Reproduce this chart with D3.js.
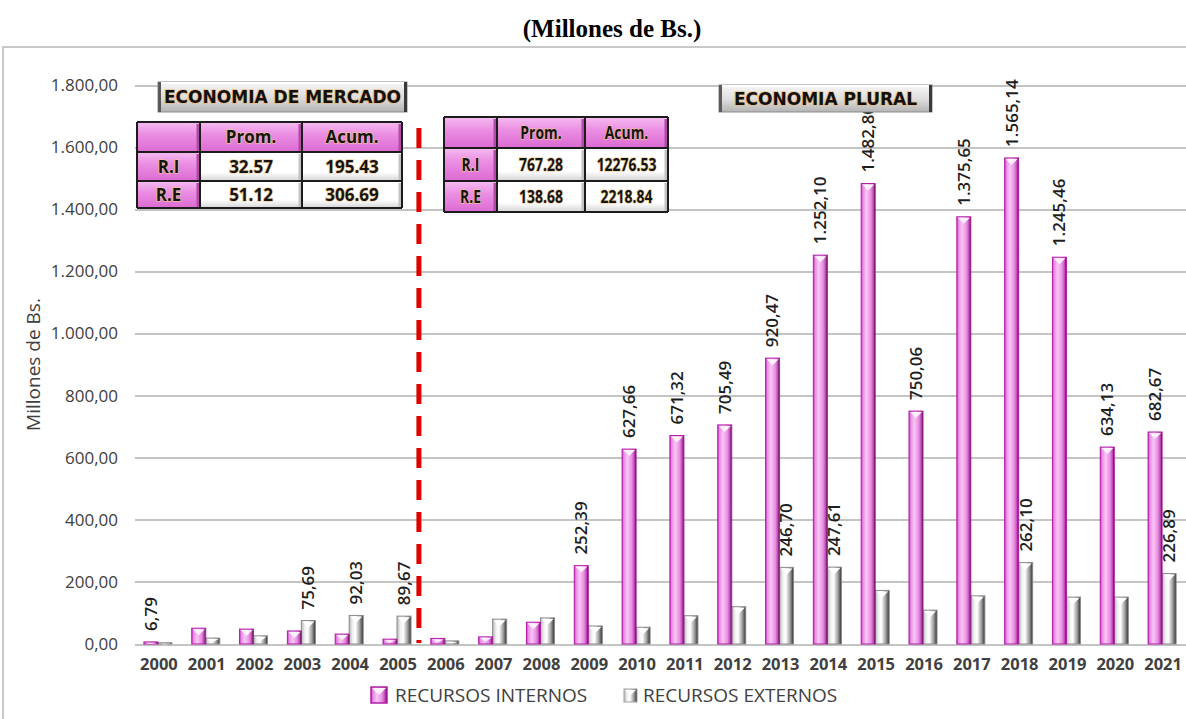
<!DOCTYPE html>
<html lang="es">
<head>
<meta charset="utf-8">
<title>Recursos internos y externos (Millones de Bs.)</title>
<style>
  body { margin: 0; background-color: white; }
  .axis path { stroke: none; }
  .axis line { stroke: none; }
  .axis text { font-family: "Open Sans", sans-serif; fill: #404040; }
  .grid path { stroke: none; }
  .grid line { stroke: #c4c4c4; stroke-width: 2px; shape-rendering: crispEdges; }
  .value-label { font-family: "Open Sans", sans-serif; font-size: 17px; font-weight: 600; fill: #1e1e1e; }
  .cell-text { font-family: "Open Sans", sans-serif; font-weight: 700; fill: #151515;
               stroke: #f6c98a; stroke-width: 1.6px; paint-order: stroke; stroke-opacity: 0.8; }
  .box-text { font-family: "DejaVu Sans", sans-serif; font-weight: 700; font-size: 17px; fill: #111;
              stroke: #f3b56a; stroke-width: 1.6px; paint-order: stroke; stroke-opacity: 0.8; }
</style>
</head>
<body>
<script src="https://cdn.jsdelivr.net/npm/d3@7/dist/d3.min.js"></script>
<svg width="1186" height="719"></svg>
<script>
// data
var years = ["2000", "2001", "2002", "2003", "2004", "2005", "2006", "2007", "2008", "2009", "2010",
    "2011", "2012", "2013", "2014", "2015", "2016", "2017", "2018", "2019", "2020", "2021"];
var recursosInternos = [6.79, 51.0, 48.0, 42.0, 32.0, 15.64, 18.0, 23.0, 70.19, 252.39, 627.66,
    671.32, 705.49, 920.47, 1252.10, 1482.80, 750.06, 1375.65, 1565.14, 1245.46, 634.13, 682.67];
var recursosExternos = [4.0, 19.0, 26.3, 75.69, 92.03, 89.67, 10.0, 80.0, 84.0, 58.0, 54.0,
    91.0, 120.0, 246.70, 247.61, 172.54, 109.0, 155.0, 262.10, 151.0, 151.0, 226.89];
// years whose bars carry a value label
var internosLabelYears = ["2000", "2009", "2010", "2011", "2012", "2013", "2014", "2015", "2016",
    "2017", "2018", "2019", "2020", "2021"];
var externosLabelYears = ["2003", "2004", "2005", "2013", "2014", "2018", "2021"];
var yTicks = [0, 200, 400, 600, 800, 1000, 1200, 1400, 1600, 1800];
var seriesNames = ["RECURSOS INTERNOS", "RECURSOS EXTERNOS"];
var periodNames = ["ECONOMIA DE MERCADO", "ECONOMIA PLURAL"];
var tableHeader = ["", "Prom.", "Acum."];
var mercadoRows = [["R.I", "32.57", "195.43"], ["R.E", "51.12", "306.69"]];
var pluralRows = [["R.I", "767.28", "12276.53"], ["R.E", "138.68", "2218.84"]];

var es = d3.formatLocale({ decimal: ",", thousands: ".", grouping: [3], currency: ["", ""] });
var fmt = es.format(",.2f");

var svg = d3.select("svg");
var plot = { left: 135, right: 1187, top: 85, bottom: 644 };

var data = years.map(function(y, i) {
    return { year: y, ri: recursosInternos[i], re: recursosExternos[i] };
});

var x = d3.scaleBand().domain(years).range([plot.left, plot.right]).padding(0);
var y = d3.scaleLinear().domain([0, 1800]).range([plot.bottom, plot.top]);
var xSub = d3.scaleBand().domain(["ri", "re"]).range([0, 28]);

// gradients
var defs = svg.append("defs");
function grad(id, stops, vertical) {
    var g = defs.append("linearGradient").attr("id", id)
        .attr("x1", 0).attr("y1", 0).attr("x2", vertical ? 0 : 1).attr("y2", vertical ? 1 : 0);
    stops.forEach(function(s) {
        g.append("stop").attr("offset", s[0]).attr("stop-color", s[1]);
    });
}
grad("pinkBar", [["0%", "#c02cb6"], ["12%", "#e98ae4"], ["38%", "#f9c6f6"], ["70%", "#e68ee0"], ["88%", "#c043b6"], ["100%", "#2e062a"]]);
grad("grayBar", [["0%", "#b8b8b8"], ["25%", "#f2f2f2"], ["45%", "#ffffff"], ["75%", "#a0a0a0"], ["90%", "#606060"], ["100%", "#1e1e1e"]]);
grad("pinkCell", [["0%", "#f5bcf0"], ["40%", "#eb8fe3"], ["100%", "#dc6ad2"]], true);
grad("whiteCell", [["0%", "#ffffff"], ["70%", "#ffffff"], ["100%", "#d4d4d4"]], true);
grad("boxFill", [["0%", "#f6f6f6"], ["55%", "#dcdcdc"], ["100%", "#b4b4b4"]], true);

// title
svg.append("text")
    .attr("x", 612).attr("y", 37)
    .attr("text-anchor", "middle")
    .attr("font-family", "Liberation Serif, serif")
    .attr("font-weight", "bold")
    .attr("font-size", "25px")
    .text("(Millones de Bs.)");

// chart frame
svg.append("rect")
    .attr("x", 3).attr("y", 47).attr("width", 1200).attr("height", 690)
    .attr("fill", "white").attr("stroke", "#c8c8c8").attr("stroke-width", 2);

// gridlines
svg.append("g")
    .attr("class", "grid")
    .attr("transform", "translate(" + plot.left + ",0)")
    .call(d3.axisLeft(y).tickValues(yTicks).tickSize(-(plot.right - plot.left)).tickFormat(""));

// y axis labels
svg.append("g")
    .attr("class", "axis")
    .attr("transform", "translate(" + plot.left + ",0)")
    .call(d3.axisLeft(y).tickValues(yTicks).tickSize(0).tickPadding(17).tickFormat(fmt))
    .selectAll("text").attr("font-size", "17px");

// y axis title
svg.append("text")
    .attr("transform", "translate(33," + (plot.top + plot.bottom) / 2 + ") rotate(-90)")
    .attr("text-anchor", "middle")
    .attr("dy", "0.35em")
    .attr("font-family", "Open Sans, sans-serif")
    .attr("font-size", "19px")
    .attr("fill", "#404040")
    .text("Millones de Bs.");

// x axis labels
svg.append("g")
    .attr("class", "axis")
    .attr("transform", "translate(0," + plot.bottom + ")")
    .call(d3.axisBottom(x).tickSize(0).tickPadding(14))
    .selectAll("text")
    .attr("font-size", "16.5px")
    .attr("font-weight", "700");

// bars
var groups = svg.append("g").selectAll("g")
    .data(data)
    .enter().append("g")
    .attr("transform", function(d) {
        return "translate(" + (x(d.year) + x.bandwidth() / 2 - 15) + ",0)";
    });

function drawBar(sel, key, fill, edge, cap) {
    sel.append("rect")
        .attr("x", xSub(key))
        .attr("y", function(d) { return y(d[key]); })
        .attr("width", xSub.bandwidth())
        .attr("height", function(d) { return y(0) - y(d[key]); })
        .attr("fill", "url(#" + fill + ")")
        .attr("stroke", edge)
        .attr("stroke-width", 1);
    // bevel on the top of each bar
    sel.append("path")
        .attr("d", function(d) {
            var t = y(d[key]), x0 = xSub(key), w = xSub.bandwidth();
            var h = Math.min(6, (y(0) - t) / 2);
            return "M" + (x0 + 1) + "," + (t + 1) + "L" + (x0 + w - 1) + "," + (t + 1) +
                "L" + (x0 + w / 2) + "," + (t + 1 + h) + "Z";
        })
        .attr("fill", cap);
}
drawBar(groups, "re", "grayBar", "#8a8a8a", "#ffffff");
drawBar(groups, "ri", "pinkBar", "#b21fa6", "#fff0fd");

// value labels
function drawLabels(key, labelYears) {
    svg.append("g").selectAll("text")
        .data(data.filter(function(d) { return labelYears.indexOf(d.year) >= 0; }))
        .enter().append("text")
        .attr("class", "value-label")
        .attr("transform", function(d) {
            var cx = x(d.year) + x.bandwidth() / 2 - 15 + xSub(key) + xSub.bandwidth() / 2;
            return "translate(" + cx + "," + (y(d[key]) - 11) + ") rotate(-90)";
        })
        .attr("dy", "0.35em")
        .text(function(d) { return fmt(d[key]); });
}
drawLabels("ri", internosLabelYears);
drawLabels("re", externosLabelYears);

// dashed separator between the two periods
svg.append("line")
    .attr("x1", x("2006") - 3).attr("x2", x("2006") - 3)
    .attr("y1", 128).attr("y2", plot.bottom - 1)
    .attr("stroke", "#e00000")
    .attr("stroke-width", 5)
    .attr("stroke-dasharray", "20,12");

// summary tables
function drawTable(cols, rows, body, fontSize, squeeze) {
    var t = svg.append("g");
    var all = [tableHeader].concat(body);
    all.forEach(function(r, i) {
        r.forEach(function(txt, j) {
            var pink = (i === 0 || j === 0);
            t.append("rect")
                .attr("x", cols[j]).attr("y", rows[i])
                .attr("width", cols[j + 1] - cols[j]).attr("height", rows[i + 1] - rows[i])
                .attr("fill", pink ? "url(#pinkCell)" : "url(#whiteCell)");
            // bevel shadow on the right of each cell
            t.append("line")
                .attr("x1", cols[j + 1] - 2).attr("x2", cols[j + 1] - 2)
                .attr("y1", rows[i] + 2).attr("y2", rows[i + 1] - 1)
                .attr("stroke", pink ? "#b24aa8" : "#c2c2c2").attr("stroke-width", 3);
            t.append("text")
                .attr("class", "cell-text")
                .attr("transform", "translate(" + (cols[j] + cols[j + 1]) / 2 + "," +
                    (rows[i] + rows[i + 1]) / 2 + ") scale(" + squeeze + ",1)")
                .attr("dy", "0.36em")
                .attr("text-anchor", "middle")
                .style("font-size", fontSize)
                .text(txt);
        });
    });
    cols.forEach(function(c) {
        t.append("line").attr("x1", c).attr("x2", c)
            .attr("y1", rows[0]).attr("y2", rows[rows.length - 1])
            .attr("stroke", "#1c1c1c").attr("stroke-width", 2);
    });
    rows.forEach(function(r) {
        t.append("line").attr("x1", cols[0]).attr("x2", cols[cols.length - 1])
            .attr("y1", r).attr("y2", r)
            .attr("stroke", "#1c1c1c").attr("stroke-width", 2);
    });
}
drawTable([137, 200, 302, 402], [122, 152, 181, 208], mercadoRows, "17px", 1);
drawTable([444, 497, 585, 668], [117, 148, 181, 212], pluralRows, "17px", 0.82);

// period name boxes
function drawBox(x0, y0, w, h, label) {
    var b = svg.append("g");
    b.append("rect").attr("x", x0).attr("y", y0).attr("width", w).attr("height", h)
        .attr("fill", "url(#boxFill)").attr("stroke", "#8c8c8c").attr("stroke-width", 1);
    b.append("line").attr("x1", x0 + 1.5).attr("x2", x0 + 1.5).attr("y1", y0).attr("y2", y0 + h)
        .attr("stroke", "#5a5a5a").attr("stroke-width", 3);
    b.append("line").attr("x1", x0 + w - 1.5).attr("x2", x0 + w - 1.5).attr("y1", y0).attr("y2", y0 + h)
        .attr("stroke", "#3a3a3a").attr("stroke-width", 3);
    b.append("line").attr("x1", x0 + 3).attr("x2", x0 + w - 3).attr("y1", y0 + 1).attr("y2", y0 + 1)
        .attr("stroke", "#ffffff").attr("stroke-width", 2);
    b.append("text")
        .attr("class", "box-text")
        .attr("x", x0 + w / 2).attr("y", y0 + h / 2)
        .attr("dy", "0.36em")
        .attr("text-anchor", "middle")
        .text(label);
}
drawBox(158, 82, 249, 30, periodNames[0]);
drawBox(719, 85, 213, 27, periodNames[1]);

// legend
var legend = svg.append("g");
legend.append("rect").attr("x", 371).attr("y", 687).attr("width", 16).attr("height", 16)
    .attr("fill", "url(#pinkBar)").attr("stroke", "#b21fa6").attr("stroke-width", 1.5);
legend.append("path").attr("d", "M372,688L386,688L379,695Z").attr("fill", "#fff0fd");
legend.append("rect").attr("x", 624).attr("y", 689).attr("width", 13).attr("height", 13)
    .attr("fill", "url(#grayBar)").attr("stroke", "#a0a0a0").attr("stroke-width", 1);
legend.append("path").attr("d", "M625,690L636,690L630.5,695Z").attr("fill", "#ffffff");
legend.selectAll("text")
    .data(seriesNames)
    .enter().append("text")
    .attr("x", function(d, i) { return i === 0 ? 395 : 643; })
    .attr("y", 695)
    .attr("dy", "0.36em")
    .attr("font-family", "Open Sans, sans-serif")
    .attr("font-size", "19px")
    .attr("fill", "#404040")
    .text(function(d) { return d; });
</script>
</body>
</html>
